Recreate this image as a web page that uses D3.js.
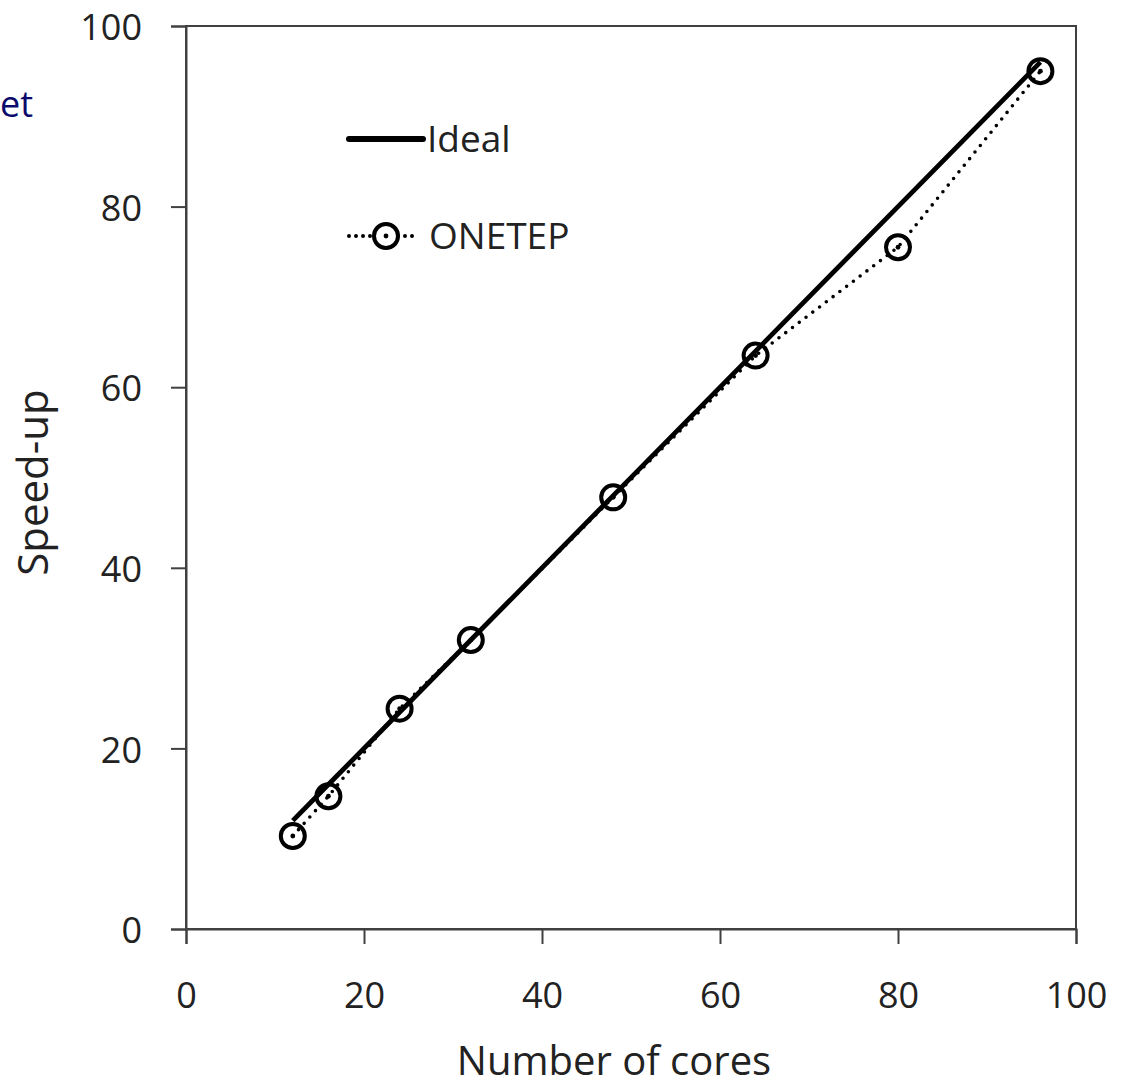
<!DOCTYPE html>
<html>
<head>
<meta charset="utf-8">
<script src="https://cdn.jsdelivr.net/npm/d3@7"></script>
<style>
    body { margin: 0; background: #fff; }
    text { font-family: "Open Sans", sans-serif; fill: #222; }
</style>
</head>
<body>
<div id="chart"></div>
<script>
// Chart values
const cores = [12, 16, 24, 32, 48, 64, 80, 96];
const idealSpeedup = [12, 16, 24, 32, 48, 64, 80, 96];
const onetepSpeedup = [10.3, 14.7, 24.4, 32.0, 47.8, 63.5, 75.5, 95.0];
const xTicks = [0, 20, 40, 60, 80, 100];
const yTicks = [0, 20, 40, 60, 80, 100];

const margin = { top: 26, left: 186, bottom: 158, right: 50 };
const fullWidth = 1126;
const fullHeight = 1087;
const width = fullWidth - margin.left - margin.right;
const height = fullHeight - margin.top - margin.bottom;

const x = d3.scaleLinear().domain([0, 100]).range([0, width]);
const y = d3.scaleLinear().domain([0, 100]).range([height, 0]);

const svg = d3.select("#chart").append("svg")
    .attr("width", fullWidth)
    .attr("height", fullHeight);

// Cut-off title fragment at the left edge.
svg.append("text")
    .attr("x", 0)
    .attr("y", 117)
    .style("font-size", "36px")
    .style("fill", "#0b0b6b")
    .text("et");

const g = svg.append("g")
    .attr("transform", `translate(${margin.left}, ${margin.top})`);

// Plot frame (top and right edges).
g.append("rect")
    .attr("width", width)
    .attr("height", height)
    .attr("fill", "none")
    .attr("stroke", "#404040")
    .attr("stroke-width", 2);

// Axes.
const xAxis = d3.axisBottom(x).tickValues(xTicks).tickSize(15).tickPadding(38);
const yAxis = d3.axisLeft(y).tickValues(yTicks).tickSize(15).tickPadding(29);

const gx = g.append("g")
    .attr("transform", `translate(0, ${height})`)
    .call(xAxis);
const gy = g.append("g").call(yAxis);

[gx, gy].forEach(a => {
    a.select(".domain").attr("stroke", "#404040").attr("stroke-width", 2);
    a.selectAll(".tick line").attr("stroke", "#404040").attr("stroke-width", 2);
    a.selectAll(".tick text").style("font-size", "36px").style("fill", "#222");
});
gy.selectAll(".tick text").attr("dy", "0.38em");

// Axis titles.
g.append("text")
    .attr("x", x(50) - 17)
    .attr("y", height + 146)
    .attr("text-anchor", "middle")
    .style("font-size", "40px")
    .text("Number of cores");

g.append("text")
    .attr("transform", `translate(${-138}, ${y(50) + 5}) rotate(-90)`)
    .attr("text-anchor", "middle")
    .style("font-size", "42px")
    .text("Speed-up");

// ONETEP: dotted line with open circle markers.
const onetep = cores.map((c, i) => ({ x: c, y: onetepSpeedup[i] }));
const ideal = cores.map((c, i) => ({ x: c, y: idealSpeedup[i] }));

const line = d3.line()
    .x(d => x(d.x))
    .y(d => y(d.y));

g.append("path")
    .attr("d", line(onetep))
    .attr("fill", "none")
    .attr("stroke", "#000")
    .attr("stroke-width", 3.6)
    .attr("stroke-linecap", "round")
    .attr("stroke-dasharray", "0 8.5");

g.append("path")
    .attr("d", line(ideal))
    .attr("fill", "none")
    .attr("stroke", "#000")
    .attr("stroke-width", 4.8);

const markers = g.selectAll(".marker")
    .data(onetep)
    .enter().append("g")
    .attr("class", "marker")
    .attr("transform", d => `translate(${x(d.x)}, ${y(d.y)})`);

markers.append("circle")
    .attr("r", 12)
    .attr("fill", "none")
    .attr("stroke", "#000")
    .attr("stroke-width", 4);

markers.append("circle")
    .attr("r", 2.4)
    .attr("fill", "#000");

// Legend.
const legend = svg.append("g");

legend.append("line")
    .attr("x1", 349).attr("x2", 423)
    .attr("y1", 139).attr("y2", 139)
    .attr("stroke", "#000")
    .attr("stroke-width", 6)
    .attr("stroke-linecap", "round");

legend.append("text")
    .attr("x", 427)
    .attr("y", 152)
    .style("font-size", "37px")
    .text("Ideal");

legend.append("line")
    .attr("x1", 349).attr("x2", 413)
    .attr("y1", 236).attr("y2", 236)
    .attr("stroke", "#000")
    .attr("stroke-width", 4)
    .attr("stroke-linecap", "round")
    .attr("stroke-dasharray", "0 7");

legend.append("circle")
    .attr("cx", 386).attr("cy", 236)
    .attr("r", 12)
    .attr("fill", "#fff")
    .attr("stroke", "#000")
    .attr("stroke-width", 4);

legend.append("circle")
    .attr("cx", 386).attr("cy", 236)
    .attr("r", 2.4)
    .attr("fill", "#000");

legend.append("text")
    .attr("x", 429)
    .attr("y", 249)
    .style("font-size", "37px")
    .text("ONETEP");
</script>
</body>
</html>
